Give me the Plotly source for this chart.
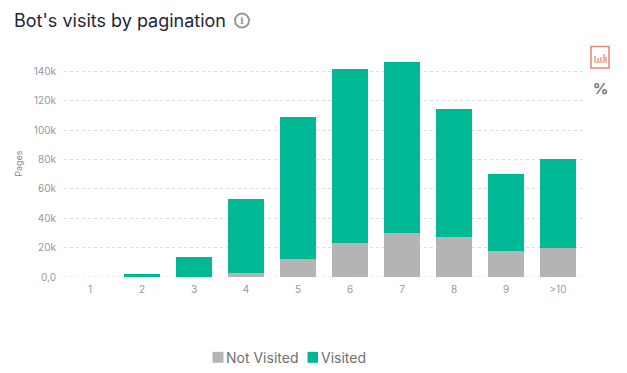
import plotly.graph_objects as go

categories = ["1", "2", "3", "4", "5", "6", "7", "8", "9", ">10"]
not_visited = [0, 100, 300, 3000, 12000, 23000, 30000, 27500, 18000, 20000]
visited = [0, 1700, 13000, 50400, 97000, 118700, 116500, 87000, 52400, 60500]
tick_values = [0, 20000, 40000, 60000, 80000, 100000, 120000, 140000]
tick_labels = ["0,0", "20k", "40k", "60k", "80k", "100k", "120k", "140k"]

GREY = "#b4b4b4"
GREEN = "#00b894"
W, H = 627, 373
L, R, T, B = 64, 584, 50, 277.5
FONT = "Inter, Roboto, sans-serif"


def px(x):
    return (x - L) / (R - L)


def py(y):
    return (B - y) / (B - T)


fig = go.Figure()
fig.add_bar(name="Not Visited", x=categories, y=not_visited, marker=dict(color=GREY, line_width=0))
fig.add_bar(name="Visited", x=categories, y=visited, marker=dict(color=GREEN, line_width=0))

shapes = [
    dict(type="line", layer="below", xref="paper", yref="y", x0=0, x1=1, y0=0, y1=0,
         line=dict(color="#dddddd", width=1, dash="3px,3px")),
    dict(type="circle", xref="paper", yref="paper", x0=px(235), x1=px(249), y0=py(13.5), y1=py(27.5),
         line=dict(color="#9a9a9a", width=2)),
    dict(type="rect", xref="paper", yref="paper", x0=px(591), x1=px(609), y0=py(46.5), y1=py(68),
         line=dict(color="#e08a6c", width=1.5)),
    dict(type="line", xref="paper", yref="paper", x0=px(594), x1=px(607), y0=py(62), y1=py(62),
         line=dict(color="#e08a6c", width=1)),
    dict(type="rect", xref="paper", yref="paper", x0=px(212.5), x1=px(223.5), y0=py(352.5), y1=py(363.5),
         fillcolor=GREY, line_width=0),
    dict(type="rect", xref="paper", yref="paper", x0=px(307.5), x1=px(318), y0=py(352.5), y1=py(363.5),
         fillcolor=GREEN, line_width=0),
]
for x, top in [(595, 56), (598, 58), (601, 57), (604, 54), (606, 57)]:
    shapes.append(dict(type="line", xref="paper", yref="paper", x0=px(x), x1=px(x), y0=py(top), y1=py(61),
                       line=dict(color="#e08a6c", width=1.3)))

annotations = [
    dict(text="Bot's visits by pagination", xref="paper", yref="paper", x=px(14), y=py(20), xanchor="left",
         yanchor="middle", showarrow=False, xshift=-2, font=dict(family=FONT, size=18, color="#1f2733")),
    dict(text="<b>i</b>", xref="paper", yref="paper", x=px(242), y=py(20.5), xanchor="center", yanchor="middle",
         showarrow=False, font=dict(family="DejaVu Serif", size=10, color="#9a9a9a")),
    dict(text="<b>%</b>", xref="paper", yref="paper", x=px(600), y=py(89), xanchor="center", yanchor="middle",
         showarrow=False, font=dict(family=FONT, size=15, color="#757575")),
    dict(text="Pages", xref="paper", yref="paper", x=px(19), y=py(164), xanchor="center", yanchor="middle",
         textangle=-90, showarrow=False, font=dict(family=FONT, size=9, color="#7f8a9c")),
    dict(text="Not Visited", xref="paper", yref="paper", x=px(226), y=py(358), xanchor="left", yanchor="middle",
         showarrow=False, xshift=-2, font=dict(family=FONT, size=14, color="#6f6f6f")),
    dict(text="Visited", xref="paper", yref="paper", x=px(321), y=py(358), xanchor="left", yanchor="middle",
         showarrow=False, xshift=-2, font=dict(family=FONT, size=14, color="#6f6f6f")),
]

fig.update_layout(
    width=W, height=H, barmode="stack", bargap=0.29,
    margin=dict(l=L, r=W - R, t=T, b=H - B, autoexpand=False),
    paper_bgcolor="white", plot_bgcolor="white",
    font=dict(family=FONT, color="#94989f", size=10),
    showlegend=False,
    shapes=shapes, annotations=annotations,
    xaxis=dict(type="category", showgrid=False, showline=False, zeroline=False, ticks="", ticklen=0,
               ticklabelstandoff=5, tickfont=dict(family=FONT, size=10, color="#94989f")),
    yaxis=dict(range=[0, 154600], tickvals=tick_values, ticktext=tick_labels, showline=False, zeroline=False,
               showgrid=True, gridcolor="#dddddd", griddash="3px,3px", gridwidth=1, ticks="",
               ticklabelstandoff=7, tickfont=dict(family=FONT, size=10, color="#94989f")),
)

fig.write_html("out.html", config={"displayModeBar": False}, post_script="document.body.style.margin='0';")
